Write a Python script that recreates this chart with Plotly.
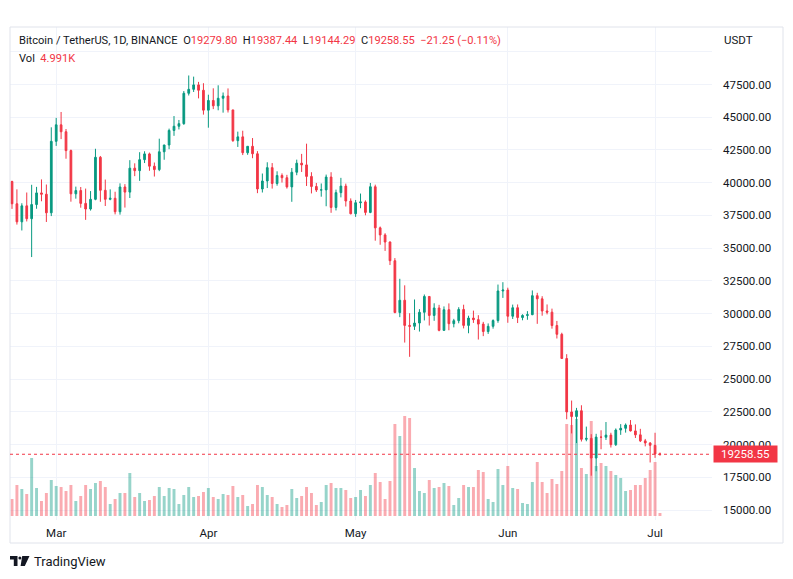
import pandas as pd
import plotly.graph_objects as go

# ---------------- data (BTC/USDT daily) ----------------
start_date = "2022-02-20"

opens = [40090, 38390, 37010, 38230, 37250, 38330, 39220, 39120, 37700, 43160,
         44420, 43890, 42450, 39150, 39400, 38420, 37990, 38730, 41940, 39420,
         38730, 38810, 37780, 39670, 39280, 41110, 40920, 41760, 42200, 41260,
         41000, 42360, 42880, 43990, 44310, 44510, 46830, 47130, 47470, 47060,
         45540, 46280, 45870, 46450, 46620, 45560, 43210, 43500, 42290, 42780,
         42210, 39520, 40130, 41150, 39940, 40550, 40380, 39680, 40800, 41490,
         41360, 40480, 39710, 39440, 39450, 40430, 38110, 39240, 39740, 38600,
         37630, 38470, 38530, 37730, 39690, 36550, 36010, 35470, 34040, 30080,
         31020, 29100, 29030, 29280, 30100, 31310, 29860, 30430, 28720, 30300,
         29230, 29460, 30320, 29100, 29660, 29540, 29200, 28630, 29030, 29470,
         31730, 31800, 29800, 30450, 29700, 29860, 29920, 31370, 31130, 30200,
         30110, 29090, 28420, 26570, 22490, 22140, 22580, 20400, 20470, 18970,
         20570, 20560, 20720, 19990, 21110, 21240, 21490, 21040, 20740, 20280,
         20120, 19940, 19279.80]
highs = [40150, 39490, 38430, 39250, 39840, 39680, 40250, 39860, 44230, 44950,
         45400, 44100, 42530, 39700, 39670, 39550, 39360, 42590, 42040, 40240,
         39490, 39310, 39950, 39890, 41720, 41480, 42330, 42400, 42300, 41540,
         43360, 42890, 44130, 45090, 44790, 47000, 48190, 48100, 47700, 47600,
         46720, 47210, 47440, 46890, 47200, 45560, 43900, 43970, 42800, 43410,
         42410, 40700, 41560, 41500, 40870, 40710, 40600, 41120, 41760, 42200,
         42980, 40800, 39980, 39940, 40620, 40800, 39470, 40370, 39930, 38800,
         38680, 39170, 38650, 39980, 39850, 36650, 36140, 35510, 34240, 32660,
         32160, 30030, 31080, 30340, 31460, 31320, 30790, 30670, 30550, 30780,
         29600, 30490, 30680, 29840, 30230, 29880, 29370, 29250, 29560, 32220,
         32400, 31980, 30690, 30700, 29950, 30190, 31770, 31590, 31330, 30700,
         30380, 29440, 28540, 26900, 23360, 22800, 23000, 21370, 20790, 20820,
         21090, 21720, 20900, 21230, 21560, 21610, 21870, 21540, 21200, 20430,
         20180, 20900, 19387.44]
lows = [38000, 36800, 36350, 37040, 34320, 38010, 38580, 37000, 37450, 42810,
        43330, 41830, 38550, 38780, 38090, 37160, 37870, 38660, 38540, 38220,
        38660, 37580, 37560, 38100, 38830, 40500, 40140, 41500, 40910, 40470,
        40880, 41750, 42560, 43580, 44070, 44420, 46660, 46930, 46440, 45200,
        44200, 45620, 45530, 45350, 45360, 43120, 42730, 42110, 42130, 41870,
        39200, 39250, 39590, 39550, 39770, 40010, 39550, 38540, 40570, 40820,
        39750, 39180, 39290, 38930, 38200, 37700, 37880, 38880, 38180, 37580,
        37390, 38050, 37510, 37670, 35570, 35260, 34790, 33710, 30030, 29730,
        27790, 26700, 28750, 28630, 29480, 29090, 29450, 28650, 28690, 28730,
        28950, 29260, 28870, 28500, 29290, 28020, 28280, 28450, 28850, 29300,
        31200, 29300, 29590, 29280, 29490, 29530, 29880, 29220, 29840, 29940,
        28850, 28100, 26560, 21930, 20850, 20110, 20230, 20250, 17620, 17960,
        19640, 20350, 19770, 19890, 20740, 20910, 21000, 20500, 20190, 19860,
        18630, 18980, 19144.29]
closes = [38390, 37010, 38230, 37250, 38330, 39220, 39120, 37700, 43160, 44420,
          43890, 42450, 39150, 39400, 38420, 37990, 38730, 41940, 39420, 38730,
          38810, 37780, 39670, 39280, 41110, 40920, 41760, 42200, 41260, 41000,
          42360, 42880, 43990, 44310, 44510, 46830, 47130, 47470, 47060, 45540,
          46280, 45870, 46450, 46620, 45560, 43210, 43500, 42290, 42780, 42210,
          39520, 40130, 41150, 39940, 40550, 40380, 39680, 40800, 41490, 41360,
          40480, 39710, 39440, 39450, 40430, 38110, 39240, 39740, 38600, 37630,
          38470, 38530, 37730, 39690, 36550, 36010, 35470, 34040, 30080, 31020,
          29100, 29030, 29280, 30100, 31310, 29860, 30430, 28720, 30300, 29230,
          29460, 30320, 29100, 29660, 29540, 29200, 28630, 29030, 29470, 31730,
          31800, 29800, 30450, 29700, 29860, 29920, 31370, 31130, 30200, 30110,
          29090, 28420, 26570, 22490, 22140, 22580, 20400, 20470, 18970, 20570,
          20560, 20720, 19990, 21110, 21240, 21490, 21040, 20740, 20280, 20120,
          19940, 19280, 19258.55]
# volume in thousands of BTC
volumes_k = [28.2, 51.5, 44.8, 36.5, 96.3, 46.5, 24.9, 38.2, 59.8, 49.8,
             48.1, 41.5, 51.5, 24.9, 33.2, 51.5, 44.8, 54.8, 58.1, 48.1,
             19.9, 28.2, 38.2, 38.2, 71.4, 31.5, 38.2, 24.9, 26.6, 33.2,
             48.1, 33.2, 46.5, 44.8, 19.9, 34.9, 48.1, 31.5, 33.2, 39.8,
             46.5, 31.5, 28.2, 36.5, 34.9, 49.8, 31.5, 34.9, 16.6, 19.9,
             51.5, 48.1, 34.9, 31.5, 19.9, 14.9, 18.3, 44.8, 29.9, 33.2,
             48.1, 38.2, 18.3, 23.2, 51.5, 54.8, 46.5, 46.5, 43.2, 29.9,
             31.5, 43.2, 33.2, 51.5, 71.4, 56.4, 28.2, 58.1, 152.7, 132.8,
             166.0, 162.7, 79.7, 41.5, 38.2, 59.8, 46.5, 48.1, 54.8, 49.8,
             18.3, 29.9, 51.5, 48.1, 48.1, 76.4, 73.0, 28.2, 23.2, 78.0,
             51.5, 83.0, 46.5, 44.8, 21.6, 19.9, 56.4, 89.6, 56.4, 38.2,
             61.4, 53.1, 74.7, 152.7, 151.1, 161.0, 79.7, 69.7, 157.7, 83.0,
             88.0, 83.0, 74.7, 68.1, 63.1, 41.5, 43.2, 51.5, 51.5, 63.1,
             76.4, 89.6, 4.991]

month_ticks = ["2022-03-01", "2022-04-01", "2022-05-01", "2022-06-01", "2022-07-01"]
month_labels = ["Mar", "Apr", "May", "Jun", "Jul"]
price_ticks = [15000, 17500, 20000, 22500, 25000, 27500, 30000, 32500, 35000,
               37500, 40000, 42500, 45000, 47500, 50000]
price_labels = ["15000.00", "17500.00", "20000.00", "22500.00", "25000.00",
                "27500.00", "30000.00", "32500.00", "35000.00", "37500.00",
                "40000.00", "42500.00", "45000.00", "47500.00", ""]

assert len(opens) == len(highs) == len(lows) == len(closes) == len(volumes_k) == 133

dates = pd.date_range(start_date, periods=len(closes), freq="D")

# ---------------- styling / layout helpers ----------------
W, H = 793, 579
L, R, T, B = 10, 712, 27, 520
UP, DOWN = "#089981", "#F23645"
UP_V, DOWN_V = "rgba(8,153,129,0.42)", "rgba(242,54,69,0.42)"
TXT = "#131722"
GRID = "#F0F3FA"
FONT = "Roboto"


def px_x(px):
    return (px - L) / (R - L)


def px_y(py):
    return (B - py) / (B - T)


day_ms = 86400000
x0 = pd.Timestamp(start_date) - pd.Timedelta(days=0.41)
x1 = pd.Timestamp(start_date) + pd.Timedelta(days=142.6)

# price axis: 47500 at y=84.5, 15000 at y=510
ppx = 32500 / (510 - 84.5)
p_top = 47500 + (84.5 - T) * ppx
p_bot = 15000 - (B - 510) * ppx
# volume axis: baseline at y=516, 1.66K per px
vpx = 1.66
v_bot = -(B - 516) * vpx
v_top = (516 - T) * vpx

vol_colors = [UP_V if c >= o else DOWN_V for o, c in zip(opens, closes)]

fig = go.Figure()
fig.add_trace(go.Bar(
    x=dates, y=volumes_k, marker=dict(color=vol_colors, line=dict(width=0)),
    width=0.6 * day_ms, xaxis="x", yaxis="y", hoverinfo="skip"))
fig.add_trace(go.Candlestick(
    x=dates, open=opens, high=highs, low=lows, close=closes,
    xaxis="x", yaxis="y2", whiskerwidth=0,
    increasing=dict(line=dict(color=UP, width=1), fillcolor=UP),
    decreasing=dict(line=dict(color=DOWN, width=1), fillcolor=DOWN),
    hoverinfo="skip"))

last_close = closes[-1]
shapes = [
    # outer frame
    dict(type="rect", xref="paper", yref="paper", x0=px_x(10), x1=px_x(783),
         y0=px_y(543), y1=px_y(27), line=dict(color="#E0E3EB", width=1),
         fillcolor="rgba(0,0,0,0)", layer="above"),
    # last price dotted line
    dict(type="line", xref="paper", yref="y2", x0=0, x1=1, y0=last_close,
         y1=last_close, line=dict(color=DOWN, width=1, dash="dot")),
]

# TradingView logo mark
def path(points):
    s = "M" + " L".join(f"{px_x(a):.5f},{px_y(b):.5f}" for a, b in points) + " Z"
    return s

shapes.append(dict(type="path", xref="paper", yref="paper",
                   path=path([(10, 556), (17.5, 556), (17.5, 566), (13.8, 566),
                              (13.8, 559.4), (10, 559.4)]),
                   fillcolor=TXT, line=dict(width=0)))
shapes.append(dict(type="circle", xref="paper", yref="paper",
                   x0=px_x(18.4), x1=px_x(21.4), y0=px_y(559.6), y1=px_y(556.6),
                   fillcolor=TXT, line=dict(width=0)))
shapes.append(dict(type="path", xref="paper", yref="paper",
                   path=path([(22.2, 556), (29.5, 556), (24.8, 566), (20.6, 566)]),
                   fillcolor=TXT, line=dict(width=0)))

red = lambda s: f"<span style='color:{DOWN}'>{s}</span>"
header = ("Bitcoin / TetherUS, 1D, BINANCE &nbsp;O" + red("19279.80") +
          " &nbsp;H" + red("19387.44") + " &nbsp;L" + red("19144.29") +
          " &nbsp;C" + red("19258.55") + " &nbsp;" + red("−21.25 (−0.11%)"))

annotations = [
    dict(xref="paper", yref="paper", x=px_x(17), y=px_y(40), text=header,
         showarrow=False, xanchor="left", yanchor="middle",
         font=dict(family=FONT, size=11.1, color=TXT)),
    dict(xref="paper", yref="paper", x=px_x(17), y=px_y(58),
         text="Vol &nbsp;" + red("4.991K"), showarrow=False,
         xanchor="left", yanchor="middle",
         font=dict(family=FONT, size=11.1, color=TXT)),
    dict(xref="paper", yref="paper", x=px_x(722), y=px_y(40), text="USDT",
         showarrow=False, xanchor="left", yanchor="middle",
         font=dict(family=FONT, size=11.5, color=TXT)),
    dict(xref="paper", yref="y2", x=1, y=last_close, text=f"{last_close:.2f}",
         showarrow=False, xanchor="left", yanchor="middle", xshift=1,
         bgcolor=DOWN, width=60, height=13, borderpad=1.5,
         font=dict(family=FONT, size=11.5, color="white")),
    dict(xref="paper", yref="paper", x=px_x(32), y=px_y(561), text="TradingView",
         showarrow=False, xanchor="left", yanchor="middle",
         font=dict(family=FONT, size=13, color=TXT)),
]

fig.update_layout(
    width=W, height=H,
    margin=dict(l=L, r=W - R, t=T, b=H - B, pad=0),
    paper_bgcolor="white", plot_bgcolor="white",
    showlegend=False, hovermode=False, dragmode=False,
    font=dict(family=FONT, size=11.5, color=TXT),
    boxgap=0.5,
    xaxis=dict(type="date", range=[x0, x1], rangeslider=dict(visible=False),
               tickvals=month_ticks, ticktext=month_labels,
               showgrid=True, gridcolor=GRID, gridwidth=1, zeroline=False,
               showline=False, ticks="", tickfont=dict(size=11.5, color=TXT),
               ticklabelstandoff=4),
    yaxis=dict(range=[v_bot, v_top], visible=False, showgrid=False,
               zeroline=False, fixedrange=True),
    yaxis2=dict(overlaying="y", side="right", range=[p_bot, p_top],
                tickvals=price_ticks, ticktext=price_labels,
                showgrid=True, gridcolor=GRID, gridwidth=1, zeroline=False,
                showline=False, ticks="", ticklabelstandoff=10,
                tickfont=dict(size=11.5, color=TXT)),
    shapes=shapes, annotations=annotations,
)

fig.write_html("out.html", config={"displayModeBar": False},
               post_script="document.body.style.margin='0';document.body.style.overflow='hidden';")
